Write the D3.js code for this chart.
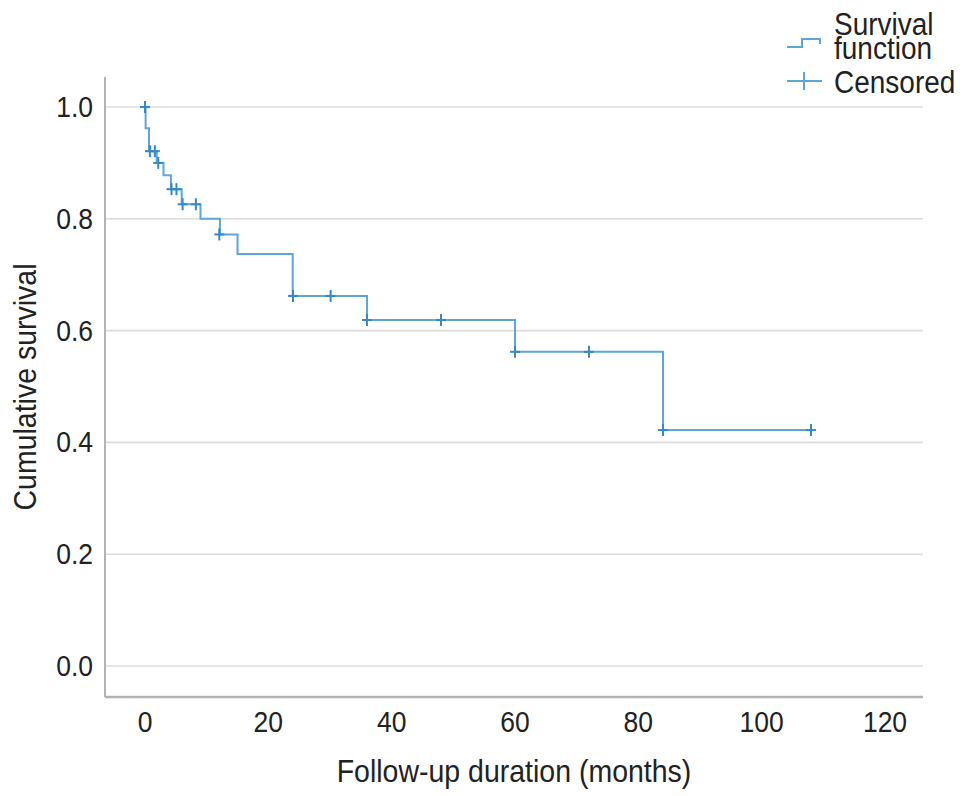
<!DOCTYPE html>
<html>
<head>
<meta charset="utf-8">
<script src="https://cdn.jsdelivr.net/npm/d3@7"></script>
<style>
	body { margin: 0; background: #fff; }
	text { font-family: "Liberation Sans", Arial, sans-serif; fill: #222; }
</style>
</head>
<body>
<svg id="chart" width="969" height="796"></svg>
<script>
	// step function: time of each drop and survival after it
	var stepTimes = [0, 0.1, 0.65, 1.9, 3.0, 4.2, 5.95, 9.0, 12.15, 15.0, 23.95, 36.0, 60.0, 84.0];
	var stepSurvival = [1.0, 0.962, 0.921, 0.900, 0.878, 0.853, 0.826, 0.800, 0.772, 0.737, 0.662, 0.619, 0.562, 0.422];
	var lastTime = 108;

	// censored cases
	var censorTimes = [0, 0.8, 1.6, 2.15, 4.3, 5.1, 6.1, 8.25, 12.05, 24.0, 30.1, 36.0, 48.0, 60.0, 72.0, 84.0, 108.0];
	var censorSurvival = [1.0, 0.921, 0.921, 0.900, 0.853, 0.853, 0.826, 0.826, 0.772, 0.662, 0.662, 0.619, 0.619, 0.562, 0.562, 0.422, 0.422];

	var xTicks = [0, 20, 40, 60, 80, 100, 120];
	var yTicks = [0.0, 0.2, 0.4, 0.6, 0.8, 1.0];

	var lineColor = "#5ca6d9",
		crossColor = "#3489cc";

	var svg = d3.select("#chart");

	// plot frame (don't call these top/left, window.top is read-only)
	var pLeft = 105, pRight = 923, pTop = 77, pBottom = 697;
	var stretch = 1.1; // reference text is a bit taller than Liberation Sans

	var x = d3.scaleLinear().domain([0, 120]).range([145, 885]);
	var y = d3.scaleLinear().domain([0, 1]).range([666, 107]);

	function label(g, px, py, str, size, anchor, rot) {
		return g.append("text")
			.attr("transform", "translate(" + px + "," + py + ")" + (rot ? " rotate(" + rot + ")" : "") + " scale(1," + stretch + ")")
			.attr("text-anchor", anchor)
			.attr("font-size", size + "px")
			.text(str);
	}

	// gridlines
	svg.append("g")
		.selectAll("line")
		.data(yTicks)
		.enter()
		.append("line")
		.attr("x1", pLeft)
		.attr("x2", pRight)
		.attr("y1", function (d) { return y(d); })
		.attr("y2", function (d) { return y(d); })
		.attr("stroke", "#dcdcdc")
		.attr("stroke-width", 1.6);

	// tick labels
	var fmt = d3.format(".1f");
	var ticks = svg.append("g");
	yTicks.forEach(function (d) {
		label(ticks, 93, y(d) + 10, fmt(d), 26.5, "end");
	});
	xTicks.forEach(function (d) {
		label(ticks, x(d), 732, d, 26.5, "middle");
	});

	svg.append("line")
		.attr("x1", pLeft).attr("x2", pLeft)
		.attr("y1", pTop).attr("y2", pBottom)
		.attr("stroke", "#b3b3b3")
		.attr("stroke-width", 2);
	svg.append("line")
		.attr("x1", pLeft).attr("x2", pRight)
		.attr("y1", pBottom).attr("y2", pBottom)
		.attr("stroke", "#b3b3b3")
		.attr("stroke-width", 2.4);

	// survival curve
	var pts = stepTimes.map(function (t, i) { return [t, stepSurvival[i]]; });
	pts.push([lastTime, stepSurvival[stepSurvival.length - 1]]);

	var line = d3.line()
		.x(function (d) { return x(d[0]); })
		.y(function (d) { return y(d[1]); })
		.curve(d3.curveStepAfter);

	svg.append("path")
		.datum(pts)
		.attr("d", line)
		.attr("fill", "none")
		.attr("stroke", lineColor)
		.attr("stroke-width", 2);

	// censor marks
	var marks = svg.append("g")
		.selectAll("g")
		.data(censorTimes)
		.enter()
		.append("g")
		.attr("transform", function (d, i) {
			return "translate(" + x(d) + "," + y(censorSurvival[i]) + ")";
		});
	marks.append("line")
		.attr("x1", -5).attr("x2", 5)
		.attr("stroke", crossColor).attr("stroke-width", 2);
	marks.append("line")
		.attr("y1", -6).attr("y2", 6)
		.attr("stroke", crossColor).attr("stroke-width", 2);

	// axis titles
	label(svg, (pLeft + pRight) / 2, 782, "Follow-up duration (months)", 28.5, "middle");
	label(svg, 36, (pTop + pBottom) / 2, "Cumulative survival", 28.5, "middle", -90);

	// legend
	var lg = svg.append("g");
	lg.append("path")
		.attr("d", "M787,47H802V39H820V44")
		.attr("fill", "none")
		.attr("stroke", lineColor)
		.attr("stroke-width", 2);
	lg.append("line")
		.attr("x1", 787).attr("x2", 822).attr("y1", 81).attr("y2", 81)
		.attr("stroke", lineColor).attr("stroke-width", 2);
	lg.append("line")
		.attr("x1", 804).attr("x2", 804).attr("y1", 72).attr("y2", 90)
		.attr("stroke", lineColor).attr("stroke-width", 2);

	var legendText = [["Survival", 35], ["function", 59], ["Censored", 93]];
	legendText.forEach(function (d) {
		label(lg, 834, d[1], d[0], 28, "start");
	});
</script>
</body>
</html>
